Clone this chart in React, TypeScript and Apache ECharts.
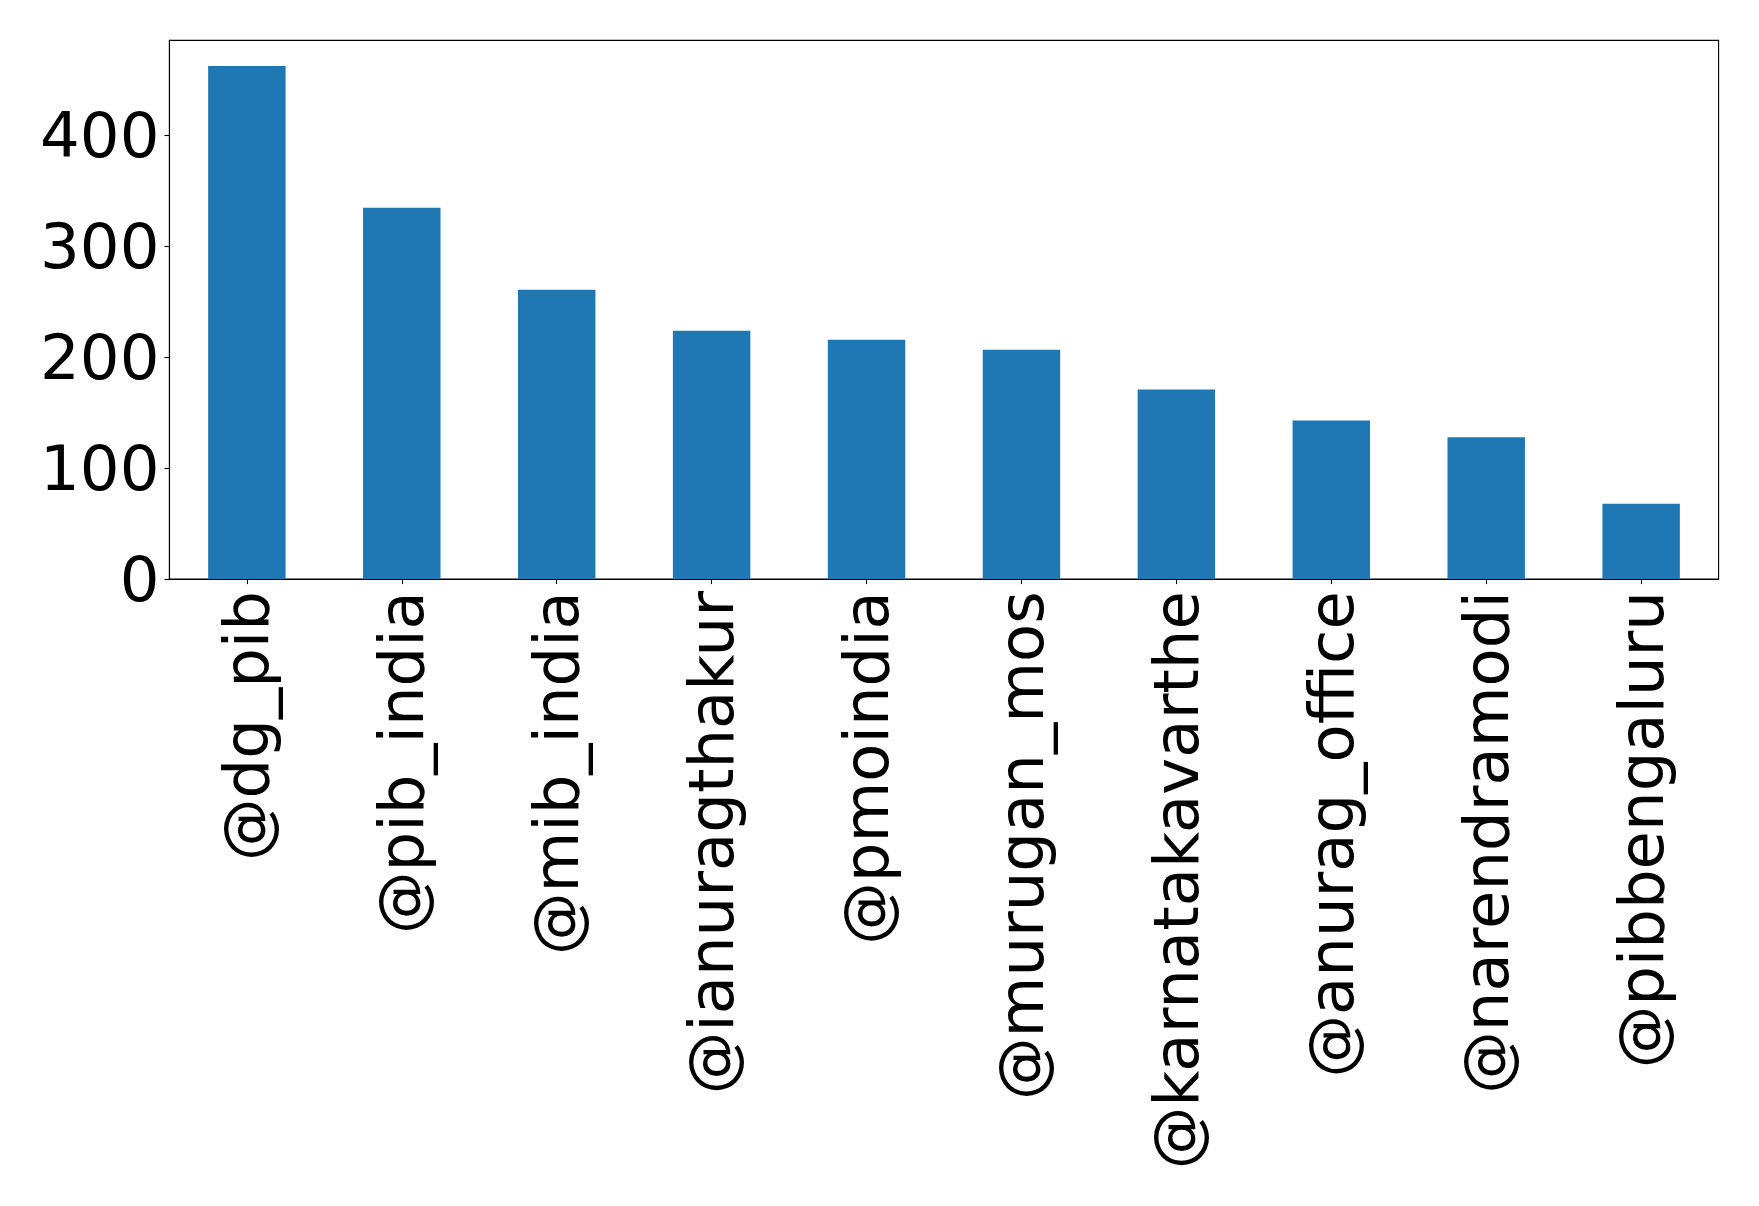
import React, { useEffect, useRef } from "react";
import * as echarts from "echarts";

const categories = [
  "@dg_pib",
  "@pib_india",
  "@mib_india",
  "@ianuragthakur",
  "@pmoindia",
  "@murugan_mos",
  "@karnatakavarthe",
  "@anurag_office",
  "@narendramodi",
  "@pibbengaluru",
];
const values = [463, 335, 261, 224, 216, 207, 171, 143, 128, 68];
const yTicks = [0, 100, 200, 300, 400];

export default function App() {
  const ref = useRef<HTMLDivElement>(null);
  useEffect(() => {
    document.body.style.margin = "0";
    const chart = echarts.init(ref.current!, null, { renderer: "svg" });
    chart.setOption({
      animation: false,
      backgroundColor: "#ffffff",
      textStyle: { fontFamily: "DejaVu Sans" },
      grid: {
        left: 169.4,
        top: 40.4,
        right: 40.4,
        bottom: 626.9,
        show: true,
        borderColor: "#000000",
        borderWidth: 1.1,
        containLabel: false,
      },
      xAxis: {
        type: "category",
        data: categories,
        boundaryGap: true,
        axisLine: { show: true, lineStyle: { color: "#000000", width: 1.1 } },
        axisTick: {
          show: true,
          alignWithLabel: true,
          length: 5,
          lineStyle: { color: "#000000", width: 1.1 },
        },
        axisLabel: {
          rotate: 90,
          interval: 0,
          margin: 12,
          fontSize: 62.5,
          color: "#000000",
          fontFamily: "DejaVu Sans",
        },
        splitLine: { show: false },
      },
      yAxis: {
        type: "value",
        min: 0,
        max: 486,
        interval: 100,
        axisLine: { show: true, lineStyle: { color: "#000000", width: 1.1 } },
        axisTick: { show: true, length: 5, lineStyle: { color: "#000000", width: 1.1 } },
        axisLabel: {
          margin: 10,
          fontSize: 62.5,
          color: "#000000",
          fontFamily: "DejaVu Sans",
          showMaxLabel: false,
          formatter: (v: number) => (yTicks.includes(v) ? String(v) : ""),
        },
        splitLine: { show: false },
      },
      series: [
        {
          type: "bar",
          data: values,
          barWidth: "50%",
          itemStyle: { color: "#1f77b4" },
        },
      ],
    });
    return () => chart.dispose();
  }, []);
  return (
    <div
      ref={ref}
      style={{ position: "fixed", left: 0, top: 0, width: 1759, height: 1206 }}
    />
  );
}
